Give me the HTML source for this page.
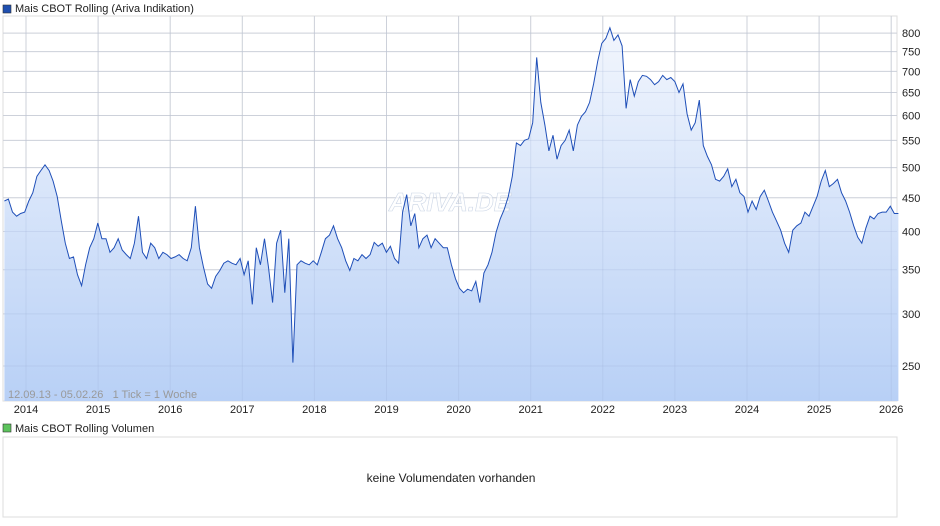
<!DOCTYPE html>
<html><head><meta charset="utf-8"><style>
body{margin:0;background:#fff;font-family:"Liberation Sans",Arial,sans-serif;}
svg{display:block}
</style></head><body>
<svg id="c" width="940" height="526" viewBox="0 0 940 526" xmlns="http://www.w3.org/2000/svg" font-family="Liberation Sans, Arial, sans-serif">
<defs><linearGradient id="g" x1="0" y1="0" x2="0" y2="1"><stop offset="0" stop-color="#f2f6fd"/><stop offset="1" stop-color="#b8d0f6"/></linearGradient></defs>
<rect x="3" y="5" width="8" height="8" fill="#1f4fb0" stroke="#333" stroke-width="0.6"/>
<text x="15" y="12" font-size="11" fill="#222">Mais CBOT Rolling (Ariva Indikation)</text>
<rect x="3" y="16" width="894" height="385" fill="#fff" stroke="#ddd"/>
<g id="grid"></g>
<path id="area" fill="url(#g)"/>
<g id="grid2"></g>
<text x="450" y="211" font-size="26" font-weight="bold" font-style="italic" fill="#fff" fill-opacity="0.7" stroke="#ccd6e6" stroke-width="0.6" text-anchor="middle">ARIVA.DE</text>
<path id="line" fill="none" stroke="#1f4fb8" stroke-width="1"/>
<g id="yt"></g><g id="xt"></g>
<text x="8" y="398" font-size="11" fill="#999">12.09.13 - 05.02.26 &#160; 1 Tick = 1 Woche</text>
<rect x="3" y="424" width="8" height="8" fill="#5cc35c" stroke="#333" stroke-width="0.6"/>
<text x="15" y="432" font-size="11" fill="#222">Mais CBOT Rolling Volumen</text>
<rect x="3" y="437" width="894" height="80" fill="#fff" stroke="#ddd"/>
<text x="451" y="482" font-size="12" fill="#222" text-anchor="middle">keine Volumendaten vorhanden</text>
</svg>
<script>
const startYear = 2013.70;
const endYear = 2026.10;
const prices = [445,448,428,422,426,428,445,458,485,495,505,495,477,452,415,384,364,366,344,331,356,378,390,412,390,390,372,378,390,375,369,364,384,422,372,364,384,378,364,372,369,364,366,369,364,361,378,437,378,353,333,328,342,349,358,361,358,356,364,344,361,310,378,356,390,353,312,384,402,323,390,253,356,361,358,356,361,356,372,390,395,408,390,378,361,349,364,361,369,364,369,385,380,384,372,380,364,358,428,455,408,426,378,390,395,378,390,384,378,378,356,339,328,323,327,325,336,312,346,356,372,399,418,432,452,485,545,540,550,553,585,735,628,580,530,560,515,540,550,570,530,580,598,608,628,670,725,772,785,815,780,795,765,615,680,642,675,690,688,680,668,675,690,680,685,675,650,670,603,570,585,633,540,520,505,480,477,485,498,468,480,458,452,428,445,432,452,462,445,428,415,402,384,372,402,408,412,428,422,437,452,477,495,468,473,480,458,445,428,408,392,384,405,422,418,426,428,428,437,426,426];
const yTicks = [250,300,350,400,450,500,550,600,650,700,750,800];
const xTicks = [2014,2015,2016,2017,2018,2019,2020,2021,2022,2023,2024,2025,2026];
const NS="http://www.w3.org/2000/svg";
function xs(t){return 26+(t-2014)*72.1;}
function ys(v){return 366-659*Math.log10(v/250);}
const n=prices.length, step=(endYear-startYear)/(n-1);
let d="";
prices.forEach((v,i)=>{d+=(i?"L":"M")+xs(startYear+i*step).toFixed(1)+","+ys(v).toFixed(1);});
document.getElementById("line").setAttribute("d",d);
document.getElementById("area").setAttribute("d",d+"L"+xs(endYear).toFixed(1)+",401L"+xs(startYear).toFixed(1)+",401Z");
const grid=document.getElementById("grid"),grid2=document.getElementById("grid2"),yt=document.getElementById("yt"),xt=document.getElementById("xt");
yTicks.forEach(v=>{
  const y=ys(v);
  [[grid,"#ddd"],[grid2,"rgba(150,170,210,0.22)"]].forEach(([g,c])=>{
    const l=document.createElementNS(NS,"line");
    l.setAttribute("x1",3);l.setAttribute("x2",897);l.setAttribute("y1",y);l.setAttribute("y2",y);l.setAttribute("stroke",c);
    
    
    g.appendChild(l);
  });
  const t=document.createElementNS(NS,"text");
  t.setAttribute("x",902);t.setAttribute("y",y+4);t.setAttribute("font-size","11");t.setAttribute("fill","#222");
  t.textContent=v;
  
  
  yt.appendChild(t);
});
xTicks.forEach(yr=>{
  const x=xs(yr);
  [[grid,"#ddd"],[grid2,"rgba(150,170,210,0.22)"]].forEach(([g,c])=>{
    const l=document.createElementNS(NS,"line");
    l.setAttribute("x1",x);l.setAttribute("x2",x);l.setAttribute("y1",16);l.setAttribute("y2",401);l.setAttribute("stroke",c);
    
    
    g.appendChild(l);
  });
  const t=document.createElementNS(NS,"text");
  t.setAttribute("x",x);t.setAttribute("y",413);t.setAttribute("font-size","11");t.setAttribute("fill","#222");t.setAttribute("text-anchor","middle");
  t.textContent=yr;
  
  
  xt.appendChild(t);
});
</script>
</body></html>
